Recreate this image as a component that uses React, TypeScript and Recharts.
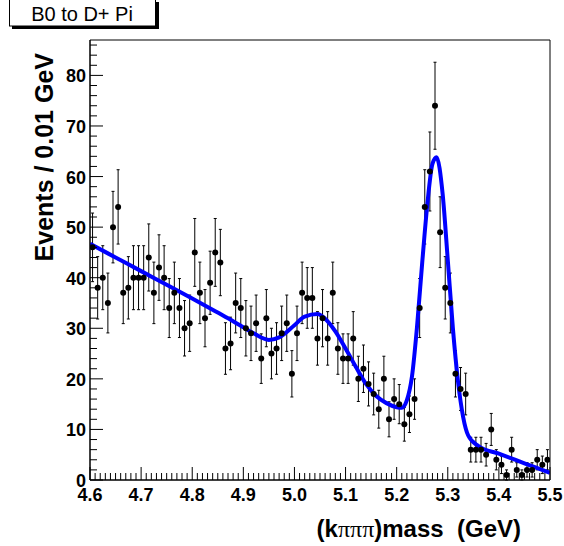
import React from "react";
import {
  ComposedChart,
  Scatter,
  Line,
  XAxis,
  YAxis,
  ErrorBar,
  ReferenceArea,
} from "recharts";

// histogram: 90 bins of 0.01 GeV starting at 4.6
const binLow = 4.6;
const binWidth = 0.01;
const counts = [
  46, 38, 40, 35, 50, 54, 37, 38, 40, 40,
  40, 44, 37, 42, 40, 34, 37, 34, 30, 31,
  45, 37, 32, 39, 45, 43, 26, 27, 35, 34,
  30, 29, 31, 24, 32, 25, 26, 29, 31, 21,
  29, 37, 36, 36, 28, 32, 28, 37, 26, 24,
  24, 28, 20, 22, 19, 17, 14, 20, 12, 16,
  15, 11, 13, 16, 34, 54, 61, 74, 49, 38,
  35, 21, 18, 17, 6, 6, 6, 5, 10, 4,
  3, 1, 6, 2, 1, 2, 2, 4, 3, 4,
];

// fitted curve
const fitMass = [
  4.6, 4.65, 4.7, 4.75, 4.8, 4.85, 4.88, 4.9, 4.92, 4.95, 4.97, 5.0, 5.02,
  5.045, 5.06, 5.08, 5.1, 5.12, 5.14, 5.16, 5.18, 5.2, 5.21, 5.22, 5.23, 5.24,
  5.25, 5.26, 5.27, 5.278, 5.29, 5.3, 5.31, 5.32, 5.33, 5.34, 5.36, 5.4, 5.45,
  5.5,
];
const fitValue = [
  46.7, 44.0, 41.3, 38.6, 35.9, 33.1, 31.4, 30.2, 29.0, 27.7, 28.2, 30.6, 32.3,
  32.8, 31.9, 29.4, 26.0, 22.4, 19.0, 16.6, 15.2, 14.4, 14.3, 15.8, 20.5, 30.5,
  43.0, 54.5, 62.5, 63.8, 56.5, 43.5, 30.0, 19.5, 12.5, 8.8, 6.7, 5.2, 3.3,
  1.4,
];

const xMajorTicks = [4.6, 4.7, 4.8, 4.9, 5.0, 5.1, 5.2, 5.3, 5.4, 5.5];
const yMajorTicks = [0, 10, 20, 30, 40, 50, 60, 70, 80];

const points = counts.map((n, i) => ({
  mass: binLow + binWidth * (i + 0.5),
  count: n,
  err: Math.sqrt(n),
}));
const fit = fitMass.map((m, i) => ({ mass: m, fit: fitValue[i] }));

// 10 minor divisions on x, 5 on y
const xTicks: number[] = [];
for (let i = 0; i < xMajorTicks.length - 1; i++) {
  for (let j = 0; j < 10; j++) {
    xTicks.push(Math.round((xMajorTicks[i] + j * 0.01) * 1000) / 1000);
  }
}
xTicks.push(xMajorTicks[xMajorTicks.length - 1]);
const yTicks: number[] = [];
for (let v = 0; v <= 86; v += 2) yTicks.push(v);

const font = '"Liberation Sans", Arial, Helvetica, sans-serif';

function XTick({ x, y, payload }: any) {
  const v = payload.value;
  const major = xMajorTicks.some((t) => Math.abs(t - v) < 1e-6);
  return (
    <g>
      <line x1={x} y1={y} x2={x} y2={y - (major ? 13 : 7)} stroke="#000" />
      {major && (
        <text
          x={x}
          y={y + 21}
          textAnchor="middle"
          fontSize={18}
          fontWeight="bold"
          fontFamily={font}
          fill="#000"
        >
          {v.toFixed(1)}
        </text>
      )}
    </g>
  );
}

function YTick({ x, y, payload }: any) {
  const v = payload.value;
  const major = yMajorTicks.includes(v);
  return (
    <g>
      <line x1={x} y1={y} x2={x + (major ? 13 : 7)} y2={y} stroke="#000" />
      {major && (
        <text
          x={x - 4}
          y={y + 7}
          textAnchor="end"
          fontSize={18}
          fontWeight="bold"
          fontFamily={font}
          fill="#000"
        >
          {v}
        </text>
      )}
    </g>
  );
}

function Dot(props: any) {
  return <circle cx={props.cx} cy={props.cy} r={3} fill="#000" />;
}

export default function App() {
  return (
    <div
      style={{
        position: "absolute",
        left: 0,
        top: 0,
        width: 564,
        height: 546,
        background: "#fff",
      }}
    >
      <ComposedChart
        width={564}
        height={546}
        margin={{ top: 40, right: 14, bottom: 0, left: 0 }}
      >
        <XAxis
          dataKey="mass"
          type="number"
          domain={[4.6, 5.5]}
          ticks={xTicks}
          interval={0}
          tick={<XTick />}
          tickLine={false}
          tickSize={0}
          tickMargin={0}
          axisLine={{ stroke: "#000" }}
          height={66}
          allowDataOverflow
        />
        <YAxis
          type="number"
          domain={[0, 87]}
          ticks={yTicks}
          interval={0}
          tick={<YTick />}
          tickLine={false}
          tickSize={0}
          tickMargin={0}
          axisLine={{ stroke: "#000" }}
          width={90}
          allowDataOverflow
        />
        <ReferenceArea
          x1={4.6}
          x2={5.5}
          y1={0}
          y2={87}
          fill="none"
          stroke="#000"
          strokeWidth={1}
          fillOpacity={0}
        />
        <Scatter
          data={points}
          dataKey="count"
          shape={<Dot />}
          isAnimationActive={false}
        >
          <ErrorBar
            dataKey="err"
            direction="y"
            width={1.5}
            stroke="#000"
            strokeWidth={1}
          />
        </Scatter>
        <Line
          data={fit}
          dataKey="fit"
          type="monotone"
          stroke="#0000ff"
          strokeWidth={4}
          dot={false}
          activeDot={false}
          isAnimationActive={false}
        />
      </ComposedChart>
      <svg
        width={564}
        height={546}
        style={{ position: "absolute", left: 0, top: 0, pointerEvents: "none" }}
      >
        {/* title pave */}
        <rect x={12} y={2} width={147} height={27} fill="#000" />
        <rect x={9.5} y={-1} width={146} height={27} fill="#fff" stroke="#000" />
        <text
          x={82}
          y={21}
          textAnchor="middle"
          fontSize={20}
          fontFamily={font}
          fill="#000"
        >
          B0 to D+ Pi
        </text>
        <text
          x={53}
          y={53}
          transform="rotate(-90, 53, 53)"
          textAnchor="end"
          fontSize={25}
          fontWeight="bold"
          fontFamily={font}
          fill="#000"
        >
          Events / 0.01 GeV
        </text>
        <text
          x={521}
          y={537}
          textAnchor="end"
          fontSize={24}
          fontWeight="bold"
          fontFamily={font}
          fill="#000"
          style={{ whiteSpace: "pre" }}
        >
          (k
          <tspan fontFamily='"Liberation Serif", serif' fontWeight="normal">
            πππ
          </tspan>
          )mass  (GeV)
        </text>
      </svg>
    </div>
  );
}
